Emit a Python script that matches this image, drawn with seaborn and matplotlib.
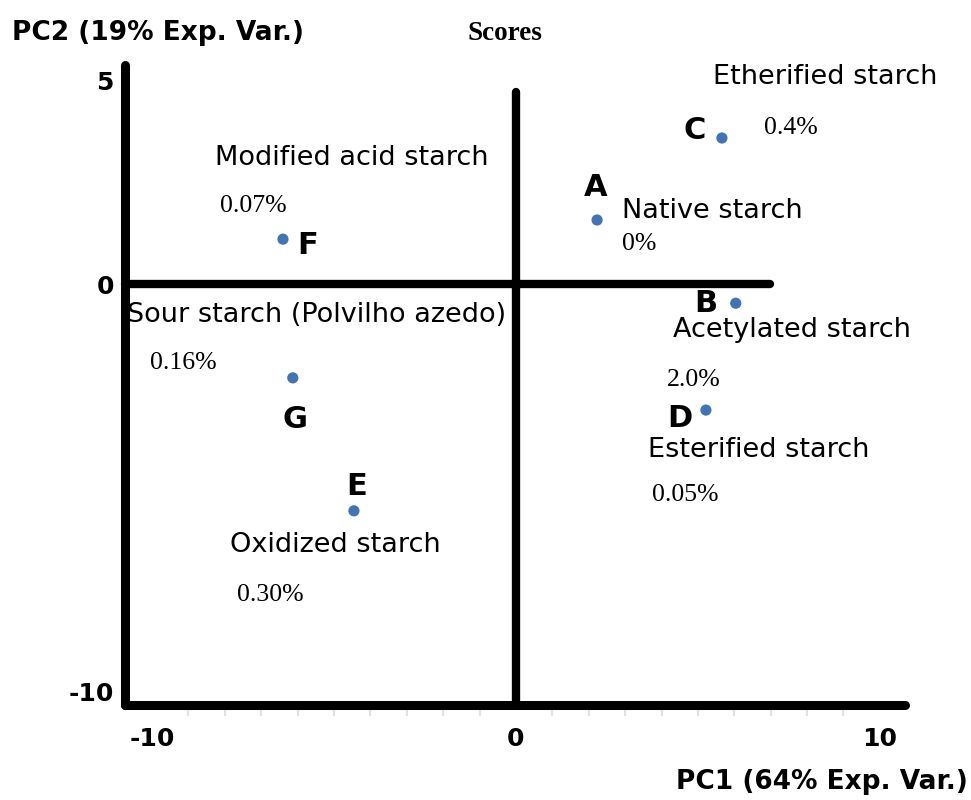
import pandas as pd
import matplotlib.pyplot as plt
import seaborn as sns
from matplotlib.ticker import MultipleLocator

# PCA scores
letters = ["C", "A", "F", "B", "G", "D", "E"]
names = ["Etherified starch", "Native starch", "Modified acid starch",
         "Acetylated starch", "Sour starch (Polvilho azedo)",
         "Esterified starch", "Oxidized starch"]
percents = ["0.4%", "0%", "0.07%", "2.0%", "0.16%", "0.05%", "0.30%"]
pc1 = [5.66, 2.23, -6.40, 6.04, -6.13, 5.22, -4.45]
pc2 = [3.58, 1.57, 1.10, -0.47, -2.30, -3.09, -5.56]

x_ticks = [-10, 0, 10]
y_ticks = [-10, 0, 5]

# label offsets in pixels from each point: (letter, name, percent)
offsets = {
    "C": ((-27, 8), (-9, 61), (42, 10)),
    "A": ((-1, 33), (25, 9), (25, -24)),
    "F": ((25, -6), (-68, 81), (-63, 33)),
    "B": ((-30, 0), (-63, -27), (-69, -77)),
    "G": ((2, -42), (-166, 63), (-143, 15)),
    "D": ((-26, -8), (-58, -40), (-54, -85)),
    "E": ((3, 24), (-124, -34), (-117, -84)),
}

df = pd.DataFrame({"pc1": pc1, "pc2": pc2, "letter": letters,
                   "name": names, "pct": percents})

sns.set_style("white")
plt.rcParams['font.family'] = ['DejaVu Sans']
plt.rcParams['text.color'] = 'black'
plt.rcParams['xtick.color'] = 'black'
plt.rcParams['ytick.color'] = 'black'

fig = plt.figure(figsize=(9.71, 8.0), dpi=100)
ax = fig.add_axes([125 / 971, 95 / 800, 780 / 971, 640 / 800])
ax.set_xlim(-10.74, 10.69)
ax.set_ylim(-10.32, 5.37)

# inner axes through the origin
ax.axhline(0, xmin=0, xmax=0.827, color="black", lw=6, solid_capstyle="round",
           clip_on=False, zorder=1)
ax.axvline(0, ymin=0, ymax=0.958, color="black", lw=6, solid_capstyle="round",
           clip_on=False, zorder=1)

sns.scatterplot(data=df, x="pc1", y="pc2", ax=ax, color="#4273b3", s=65,
                edgecolor="none", zorder=3, legend=False)

for _, row in df.iterrows():
    lo, no, po = offsets[row["letter"]]
    xy = (row["pc1"], row["pc2"])
    ax.annotate(row["letter"], xy, xytext=lo, textcoords="offset pixels",
                ha="center", va="center", fontsize=22, fontweight="bold")
    ax.annotate(row["name"], xy, xytext=no, textcoords="offset pixels",
                ha="left", va="center", fontsize=19.5)
    ax.annotate(row["pct"], xy, xytext=po, textcoords="offset pixels",
                ha="left", va="center", fontsize=18.5, family="Liberation Serif")

for side in ["top", "right"]:
    ax.spines[side].set_visible(False)
for side in ["left", "bottom"]:
    ax.spines[side].set_linewidth(6.5)
    ax.spines[side].set_color("black")
    ax.spines[side].set_capstyle("round")

ax.set_xticks(x_ticks)
ax.set_yticks(y_ticks)
ax.set_xticklabels([str(v) for v in x_ticks], fontsize=18, fontweight="bold")
ax.set_yticklabels([str(v) for v in y_ticks], fontsize=18, fontweight="bold")
ax.tick_params(axis="both", which="major", length=0)
ax.tick_params(axis="x", pad=16)
ax.tick_params(axis="y", pad=8)
ax.xaxis.set_minor_locator(MultipleLocator(1))
ax.tick_params(axis="x", which="minor", bottom=True, length=8, width=1.5,
               color="#e2e2e2", direction="out")
ax.set_xlabel("")
ax.set_ylabel("")

fig.text(12 / 971, 1 - 33 / 800, "PC2 (19% Exp. Var.)", fontsize=19,
         fontweight="bold", ha="left", va="center")
fig.text(505 / 971, 1 - 33 / 800, "Scores", fontsize=19.5, fontweight="bold",
         family="Liberation Serif", ha="center", va="center")
fig.text(968 / 971, 1 - 782 / 800, "PC1 (64% Exp. Var.)", fontsize=19,
         fontweight="bold", ha="right", va="center")

fig.savefig("out.png", dpi=100)
